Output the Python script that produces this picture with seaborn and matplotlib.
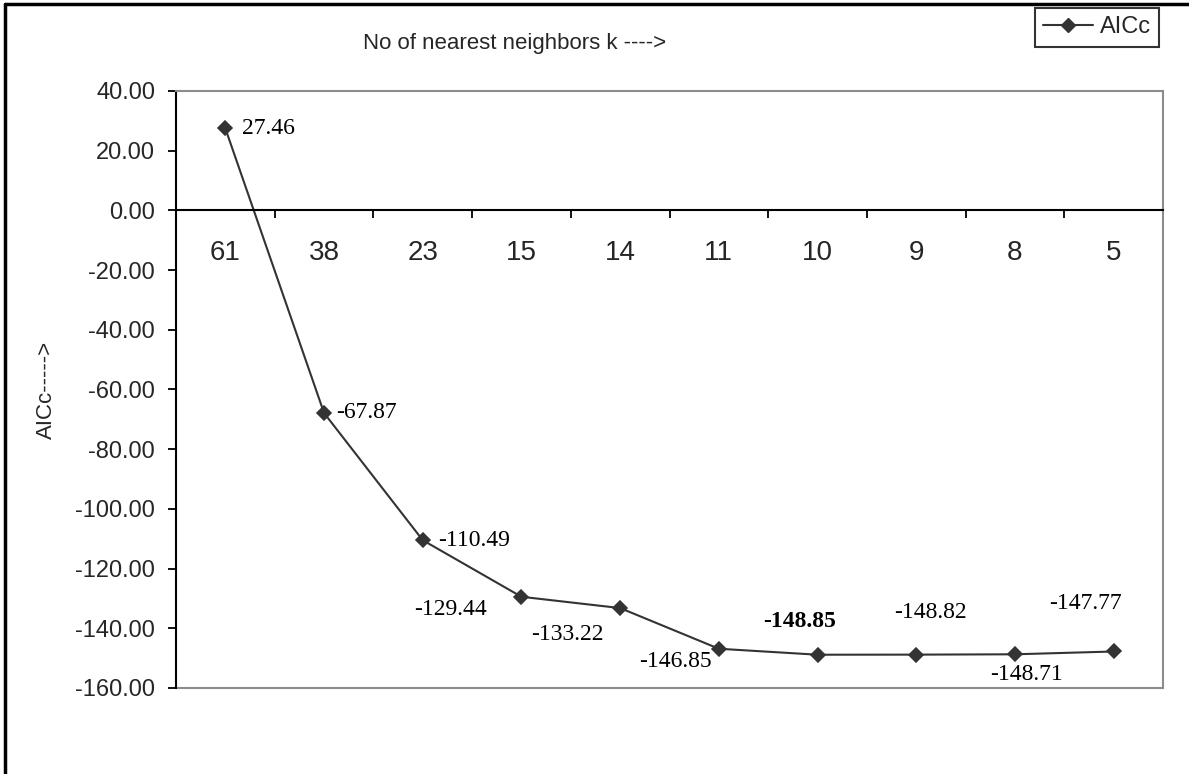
import numpy as np
import pandas as pd
import matplotlib
matplotlib.use("Agg")
import matplotlib.pyplot as plt
from matplotlib.lines import Line2D
from matplotlib.patches import Rectangle
import seaborn as sns

# ---- data ----
k_labels = ["61", "38", "23", "15", "14", "11", "10", "9", "8", "5"]
aicc = [27.46, -67.87, -110.49, -129.44, -133.22, -146.85, -148.85, -148.82, -148.71, -147.77]
value_labels = ["27.46", "-67.87", "-110.49", "-129.44", "-133.22", "-146.85",
                "-148.85", "-148.82", "-148.71", "-147.77"]
y_ticks = [40, 20, 0, -20, -40, -60, -80, -100, -120, -140, -160]

# ---- layout (label offsets in pixels, ha) ----
label_offsets = [(17, 0, "left"), (12, 0, "left"), (15, 0, "left"), (-35, -13, "right"),
                 (-53, -26, "center"), (-7, -13, "right"), (-18, 33, "center"),
                 (14, 42, "center"), (12, -20, "center"), (-28, 48, "center")]
bold_index = 6

sns.set_theme(style="white")
plt.rcParams["font.family"] = ["Liberation Sans", "DejaVu Sans"]

W, H, DPI = 1189, 774, 100
fig = plt.figure(figsize=(W / DPI, H / DPI), dpi=DPI)
ax = fig.add_axes([176 / W, 1 - 688 / H, (1163 - 176) / W, (688 - 91) / H])

df = pd.DataFrame({"k": k_labels, "AICc": aicc})
dark = "#333333"
sns.pointplot(data=df, x="k", y="AICc", order=k_labels, color=dark,
              markers="D", markersize=7, linewidth=1.5, ax=ax, label="AICc")

ax.set_xlim(-0.5, len(k_labels) - 0.5)
ax.set_ylim(min(y_ticks), max(y_ticks))
ax.set_yticks(y_ticks)
ax.set_yticklabels([f"{v:.2f}" for v in y_ticks], fontsize=17)
ax.tick_params(axis="y", direction="out", length=6, width=1.3, color="black", pad=9, left=True)

# x axis at zero
ax.spines["bottom"].set_position(("data", 0))
ax.spines["bottom"].set_color("black")
ax.spines["bottom"].set_linewidth(1.5)
ax.spines["left"].set_color("black")
ax.spines["left"].set_linewidth(1.5)
for s in ["top", "right"]:
    ax.spines[s].set_color("#8c8c8c")
    ax.spines[s].set_linewidth(1.5)
ax.add_patch(Rectangle((0, 0), 1, 0, transform=ax.transAxes, fill=False,
                       edgecolor="#8c8c8c", linewidth=1.5, clip_on=False))

ax.set_xticks(np.arange(0.5, len(k_labels) - 0.5, 1))
ax.set_xticklabels([])
ax.set_xticks(np.arange(len(k_labels)), minor=True)
ax.set_xticklabels(k_labels, minor=True, fontsize=20)
ax.tick_params(axis="x", which="major", direction="out", length=5.5, width=1.3,
               color="black", bottom=True)
ax.tick_params(axis="x", which="minor", length=0, pad=21, bottom=True)
ax.set_xlabel("")
ax.set_ylabel("AICc----->", fontsize=16, labelpad=13)
ax.grid(False)

# data labels
for i, (v, lab) in enumerate(zip(aicc, value_labels)):
    dx, dy, ha = label_offsets[i]
    ax.annotate(lab, (i, v), xytext=(dx * 0.72, dy * 0.72), textcoords="offset points",
                ha=ha, va="center", fontsize=17, family="Liberation Serif",
                fontweight="bold" if i == bold_index else "normal", color="black")

# title-like axis caption
fig.text(515 / W, 1 - 43 / H, "No of nearest neighbors k ---->", ha="center", va="center",
         fontsize=16)

# legend
handle = Line2D([], [], color=dark, marker="D", markersize=7, linewidth=1.5)
leg = fig.legend([handle], ["AICc"], loc="upper right",
                 bbox_to_anchor=(1159 / W, 1 - 8 / H), fontsize=17, frameon=True,
                 fancybox=False, edgecolor="black", handlelength=2.1, handletextpad=0.3,
                 borderpad=0.35, borderaxespad=0)
leg.get_frame().set_linewidth(1.5)
if ax.get_legend() is not None:
    ax.get_legend().remove()

# figure border (left and top visible)
fig.add_artist(Line2D([5 / W, 5 / W], [0, 1 - 4 / H], transform=fig.transFigure,
                      color="black", linewidth=2.5))
fig.add_artist(Line2D([5 / W, 1], [1 - 4 / H, 1 - 4 / H], transform=fig.transFigure,
                      color="black", linewidth=2.5))

fig.savefig("out.png", dpi=DPI)
